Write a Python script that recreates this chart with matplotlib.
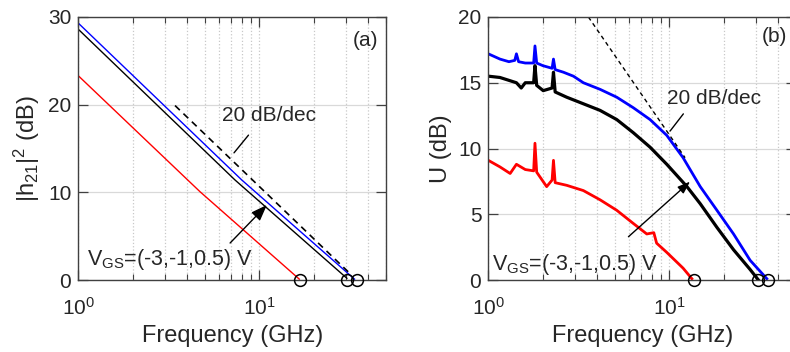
import matplotlib
matplotlib.use("Agg")
import matplotlib.pyplot as plt
from matplotlib.ticker import LogLocator, FixedLocator, NullFormatter, LogFormatterSciNotation

plt.rcParams['font.family'] = ['Liberation Sans', 'DejaVu Sans']
plt.rcParams['mathtext.fontset'] = 'custom'
plt.rcParams['mathtext.rm'] = 'Liberation Sans'
plt.rcParams['mathtext.it'] = 'Liberation Sans'
plt.rcParams['mathtext.bf'] = 'Liberation Sans:bold'

# ---------------- data: panel (a) |h21|^2 ----------------
h21_f_blue = [1.0, 8.0, 33.5]
h21_blue = [29.3, 11.4, 0.1]
h21_f_black = [1.0, 7.34, 30.4]
h21_black = [28.6, 11.4, 0.2]
h21_f_red = [1.0, 4.7, 16.6]
h21_red = [23.3, 10.07, 0.1]
fT = [16.8, 30.4, 34.5]            # red, black, blue crossings (GHz)
ref_a_f = [3.42, 30.9]             # 20 dB/dec reference
ref_a_y = [19.9, 0.94]

# ---------------- data: panel (b) U ----------------
u_f_blue = [1.0, 1.16, 1.30, 1.40, 1.43, 1.47, 1.6, 1.78, 1.81, 1.85, 2.0, 2.25, 2.29, 2.34,
            2.6, 2.95, 3.35, 4.14, 5.12, 6.32, 7.82, 9.67, 11.9, 14.8, 18.3, 22.6, 27.9, 34.5]
u_blue = [17.2, 16.8, 16.6, 16.7, 17.2, 16.6, 16.5, 16.5, 17.8, 16.5, 16.3, 16.1, 16.8, 16.0,
          15.8, 15.5, 15.0, 14.5, 13.9, 13.1, 12.2, 11.0, 9.3, 7.1, 5.3, 3.5, 1.5, 0.1]
u_f_black = [1.0, 1.16, 1.43, 1.52, 1.6, 1.78, 1.81, 1.85, 2.01, 2.25, 2.29, 2.34, 2.71,
             3.35, 4.14, 5.12, 6.32, 7.82, 9.67, 12.5, 14.8, 18.3, 22.6, 27.9, 31.0]
u_black = [15.5, 15.4, 15.0, 14.6, 15.0, 15.0, 16.3, 14.8, 14.4, 14.6, 15.8, 14.3, 13.9,
           13.4, 12.9, 12.2, 11.2, 10.1, 8.8, 7.1, 5.8, 4.0, 2.3, 0.8, 0.0]
u_f_red = [1.0, 1.16, 1.32, 1.43, 1.6, 1.78, 1.81, 1.85, 2.10, 2.25, 2.29, 2.34, 2.71,
           3.35, 4.14, 5.12, 6.32, 7.5, 8.2, 8.5, 9.67, 11.9, 13.3]
u_red = [9.1, 8.6, 8.1, 8.8, 8.4, 8.3, 10.4, 8.2, 7.1, 7.6, 9.1, 7.4, 7.2,
         6.8, 6.1, 5.3, 4.3, 3.5, 3.6, 2.8, 2.1, 0.9, 0.1]
fmax = [13.6, 31.0, 35.2]
ref_b_f = [3.57, 12.2]
ref_b_y = [20.0, 9.3]

W, H = 790, 352
fig = plt.figure(figsize=(W / 100, H / 100), dpi=100)
ax1 = fig.add_axes([78.3 / W, 72 / H, 307.7 / W, 263 / H])
ax2 = fig.add_axes([488.3 / W, 72 / H, 307.7 / W, 263 / H])

spine_c = '#404040'
for ax in (ax1, ax2):
    ax.set_xscale('log')
    ax.set_xlim(1, 50)
    ax.xaxis.set_major_locator(FixedLocator([1, 10]))
    ax.xaxis.set_major_formatter(LogFormatterSciNotation())
    ax.xaxis.set_minor_locator(LogLocator(base=10, subs=range(2, 10), numticks=10))
    ax.xaxis.set_minor_formatter(NullFormatter())
    ax.tick_params(which='both', direction='in', top=True, right=True, color=spine_c,
                   labelsize=15, labelcolor='#262626')
    ax.tick_params(which='major', length=7, width=0.9)
    ax.tick_params(which='minor', length=4, width=0.8)
    ax.tick_params(axis='x', pad=12.5)
    ax.tick_params(axis='y', pad=5)
    ax.grid(which='major', axis='y', color='#d9d9d9', lw=0.9, ls='-')
    ax.grid(which='major', axis='x', color='#c8c8c8', lw=0.9, ls=':')
    ax.grid(which='minor', axis='x', color='#c8c8c8', lw=0.9, ls=':')
    ax.set_axisbelow(True)
    for s in ax.spines.values():
        s.set_color(spine_c)
        s.set_linewidth(1.0)
    ax.set_xlabel('Frequency (GHz)', fontsize=17, color='#262626', labelpad=4)

# panel (a)
ax1.set_ylim(0, 30)
ax1.set_yticks([0, 10, 20, 30])
ax1.plot(h21_f_red, h21_red, color='#ff0000', lw=1.0)
ax1.plot(h21_f_black, h21_black, color='black', lw=1.0)
ax1.plot(h21_f_blue, h21_blue, color='#0000ff', lw=1.0)
ax1.plot(ref_a_f, ref_a_y, color='black', lw=1.2, ls=(0, (4, 3)))
ax1.plot(fT, [0, 0, 0], 'o', ms=8.5, mfc='none', mec='black', mew=1.1, clip_on=False, zorder=5)
ax1.set_ylabel(r'$|\mathrm{h}_{21}|^{2}$ (dB)', fontsize=17, color='#262626', labelpad=4)
ax1.text(32.9, 27.3, '(a)', fontsize=15, ha='left', va='center', color='#262626')
ax1.text(6.2, 18.8, '20 dB/dec', fontsize=15, ha='left', va='center', color='#262626')
ax1.annotate('', xy=(8.9, 16.77), xytext=(7.08, 14.26),
             arrowprops=dict(arrowstyle='-', color='black', lw=1.0))
ax1.text(1.12, 1.71, r'V$_{\mathrm{GS}}$=(-3,-1,0.5) V', fontsize=15.5, ha='left', va='baseline',
         color='#262626')
ax1.annotate('', xy=(11.0, 8.56), xytext=(6.89, 4.22),
             arrowprops=dict(arrowstyle='-|>,head_length=0.65,head_width=0.24', color='black',
                             lw=1.0, shrinkA=0, shrinkB=0), fontsize=15)

# panel (b)
ax2.set_ylim(0, 20)
ax2.set_yticks([0, 5, 10, 15, 20])
ax2.plot(u_f_red, u_red, color='#ff0000', lw=2.0)
ax2.plot(u_f_blue, u_blue, color='#0000ff', lw=2.0)
ax2.plot(u_f_black, u_black, color='black', lw=2.3)
ax2.plot(ref_b_f, ref_b_y, color='black', lw=1.0, ls=(0, (3, 2.5)))
ax2.plot(fmax, [0, 0, 0], 'o', ms=8.5, mfc='none', mec='black', mew=1.1, clip_on=False, zorder=5)
ax2.set_ylabel('U (dB)', fontsize=17, color='#262626', labelpad=4)
ax2.text(32.4, 18.55, '(b)', fontsize=15, ha='left', va='center', color='#262626')
ax2.text(9.68, 13.84, '20 dB/dec', fontsize=15, ha='left', va='center', color='#262626')
ax2.annotate('', xy=(12.2, 12.8), xytext=(9.87, 11.16),
             arrowprops=dict(arrowstyle='-', color='black', lw=1.0))
ax2.text(1.045, 0.76, r'V$_{\mathrm{GS}}$=(-3,-1,0.5) V', fontsize=15.5, ha='left', va='baseline',
         color='#262626')
ax2.annotate('', xy=(13.0, 7.48), xytext=(5.94, 3.29),
             arrowprops=dict(arrowstyle='-|>,head_length=0.5,head_width=0.18', color='black',
                             lw=1.0, shrinkA=0, shrinkB=0), fontsize=15)

fig.savefig('out.png', dpi=100)
